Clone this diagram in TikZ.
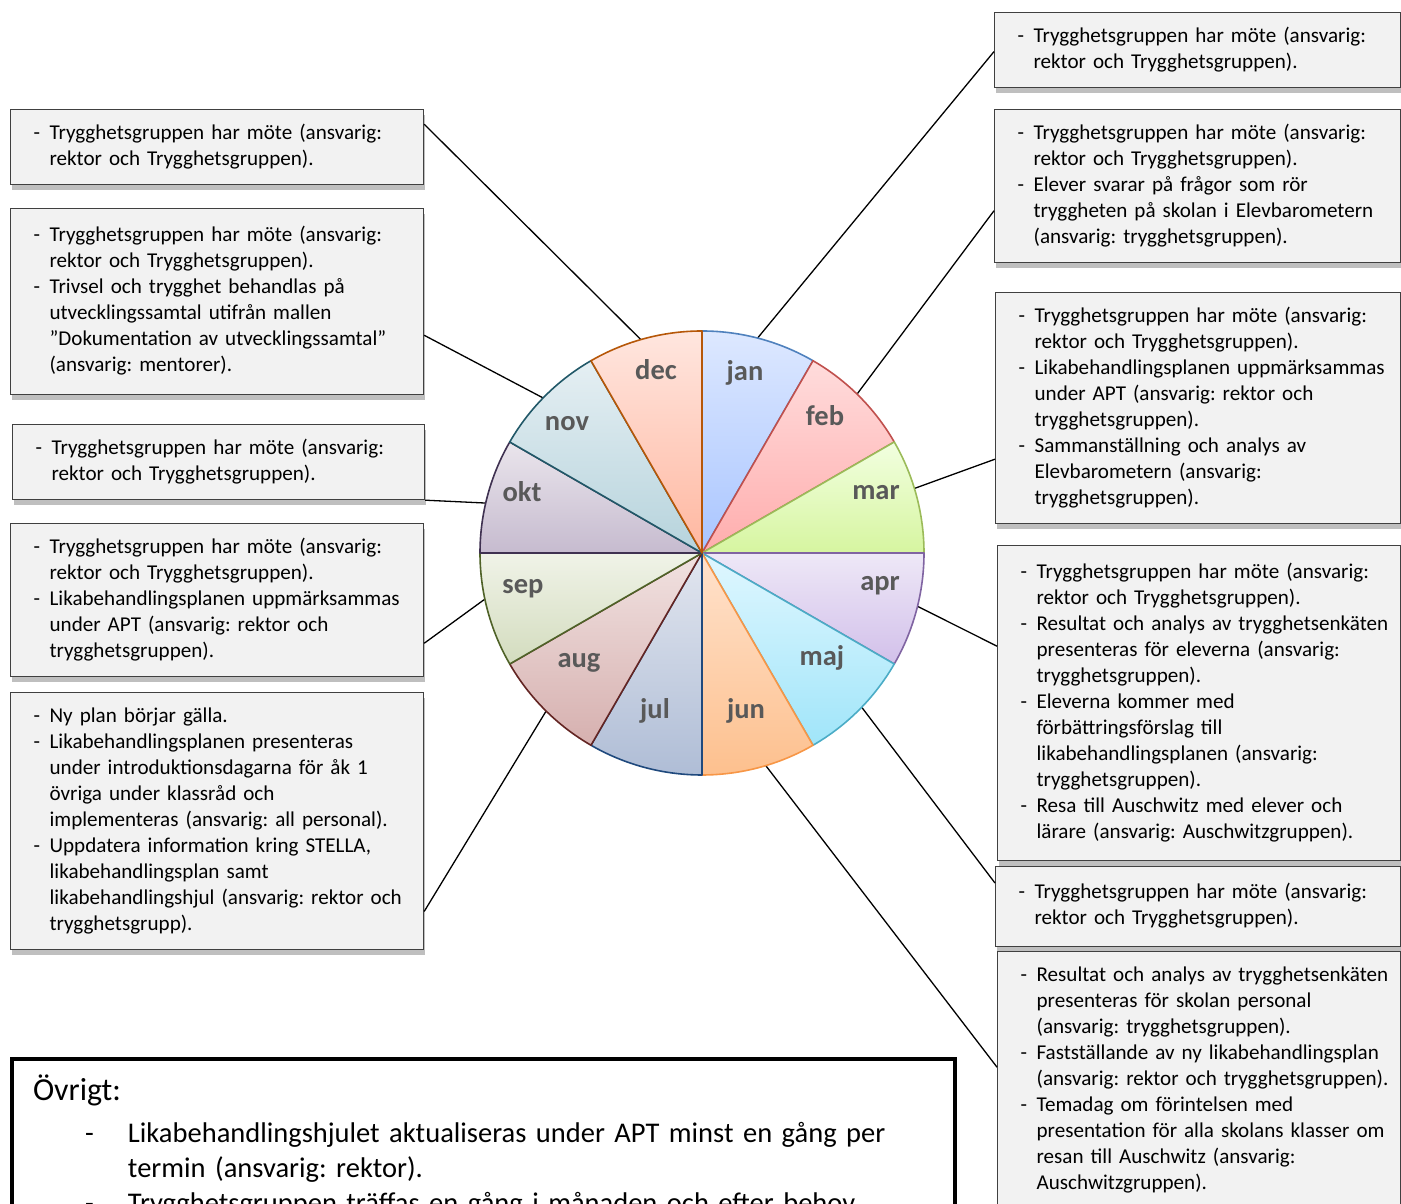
\documentclass[tikz,border=0pt]{standalone}
\usepackage{fontspec}
\setmainfont{Carlito}
\usetikzlibrary{calc,shadows}
\frenchspacing

\definecolor{jan-top}{HTML}{DDE8FF}\definecolor{jan-bot}{HTML}{A9C5FF}\definecolor{jan-line}{HTML}{4F81BD}
\definecolor{feb-top}{HTML}{FFDCDC}\definecolor{feb-bot}{HTML}{FFADAD}\definecolor{feb-line}{HTML}{C0504D}
\definecolor{mar-top}{HTML}{F2FFE0}\definecolor{mar-bot}{HTML}{D6F5A0}\definecolor{mar-line}{HTML}{9BBB59}
\definecolor{apr-top}{HTML}{EEE8F7}\definecolor{apr-bot}{HTML}{D2C0EA}\definecolor{apr-line}{HTML}{8064A2}
\definecolor{maj-top}{HTML}{E0F7FF}\definecolor{maj-bot}{HTML}{A0E5F9}\definecolor{maj-line}{HTML}{4BACC6}
\definecolor{jun-top}{HTML}{FFE2CC}\definecolor{jun-bot}{HTML}{FDC08E}\definecolor{jun-line}{HTML}{F79646}
\definecolor{jul-top}{HTML}{E2E6EF}\definecolor{jul-bot}{HTML}{AFBDD6}\definecolor{jul-line}{HTML}{1F497D}
\definecolor{aug-top}{HTML}{F1E2E1}\definecolor{aug-bot}{HTML}{D6B0AF}\definecolor{aug-line}{HTML}{632523}
\definecolor{sep-top}{HTML}{F0F3E8}\definecolor{sep-bot}{HTML}{D3DCBE}\definecolor{sep-line}{HTML}{4F6228}
\definecolor{okt-top}{HTML}{EAE5EC}\definecolor{okt-bot}{HTML}{C6BBCF}\definecolor{okt-line}{HTML}{3F3151}
\definecolor{nov-top}{HTML}{E5EFF3}\definecolor{nov-bot}{HTML}{B6D3DC}\definecolor{nov-line}{HTML}{215868}
\definecolor{dec-top}{HTML}{FFE6DF}\definecolor{dec-bot}{HTML}{FFB7A0}\definecolor{dec-line}{HTML}{B65708}
\definecolor{boxline}{HTML}{404040}
\definecolor{boxfill}{HTML}{F2F2F2}
\definecolor{monthgray}{HTML}{595959}

\newcommand\dl[1]{\strut\makebox[16pt][l]{-}\mbox{#1}}
\newcommand\cl[1]{\strut\hspace*{16pt}\mbox{#1}}

\tikzset{
  infobox/.style={draw=boxline, line width=1.2pt, fill=boxfill, anchor=north west,
    align=left, text width=#1, inner xsep=23pt, inner ysep=11.5pt,
    font=\fontsize{21.1}{26}\selectfont,
    drop shadow={shadow xshift=1pt, shadow yshift=-5pt, fill=black, opacity=0.25}},
  infobox/.default=367pt,
  notebox/.style={draw=black, line width=4pt, fill=white, anchor=north west,
    align=left, text width=901pt, inner xsep=21pt, inner ysep=16pt,
    font=\fontsize{28.5}{35}\selectfont},
  month/.style={font=\fontsize{28.5}{30}\selectfont\bfseries, text=monthgray},
  link/.style={draw=black, line width=1.3pt},
}

\begin{document}
\begin{tikzpicture}[x=1pt, y=1pt]
\useasboundingbox (0,0) rectangle (1401,1204);
\clip (0,0) rectangle (1401,1204);

\coordinate (c) at (702,651);
\foreach \m/\a in {jan/75.5, feb/45.7, mar/16.9, apr/-13.9, maj/-44, jun/-73.3,
                   aug/-134.6, sep/-168, okt/167, nov/135.7, dec/106}
  \coordinate (r-\m) at ($(c)+(\a:222)$);

\node[infobox] (L1) at (10,1095) {\dl{Trygghetsgruppen har möte (ansvarig:}\\\cl{rektor och Trygghetsgruppen).}};
\node[infobox, minimum height=186pt] (L2) at (10,996) {\dl{Trygghetsgruppen har möte (ansvarig:}\\\cl{rektor och Trygghetsgruppen).}\\\dl{Trivsel och trygghet behandlas på}\\\cl{utvecklingssamtal utifrån mallen}\\\cl{”Dokumentation av utvecklingssamtal”}\\\cl{(ansvarig: mentorer).}};
\node[infobox=366pt] (L3) at (12,780) {\dl{Trygghetsgruppen har möte (ansvarig:}\\\cl{rektor och Trygghetsgruppen).}};
\node[infobox] (L4) at (10,681) {\dl{Trygghetsgruppen har möte (ansvarig:}\\\cl{rektor och Trygghetsgruppen).}\\\dl{Likabehandlingsplanen uppmärksammas}\\\cl{under APT (ansvarig: rektor och}\\\cl{trygghetsgruppen).}};
\node[infobox] (L5) at (10,512) {\dl{Ny plan börjar gälla.}\\\dl{Likabehandlingsplanen presenteras}\\\cl{under introduktionsdagarna för åk 1}\\\cl{övriga under klassråd och}\\\cl{implementeras (ansvarig: all personal).}\\\dl{Uppdatera information kring STELLA,}\\\cl{likabehandlingsplan samt}\\\cl{likabehandlingshjul (ansvarig: rektor och}\\\cl{trygghetsgrupp).}};

\node[infobox=360pt] (R1) at (994,1192) {\dl{Trygghetsgruppen har möte (ansvarig:}\\\cl{rektor och Trygghetsgruppen).}};
\node[infobox=360pt] (R2) at (994,1095) {\dl{Trygghetsgruppen har möte (ansvarig:}\\\cl{rektor och Trygghetsgruppen).}\\\dl{Elever svarar på frågor som rör}\\\cl{tryggheten på skolan i Elevbarometern}\\\cl{(ansvarig: trygghetsgruppen).}};
\node[infobox=359pt] (R3) at (995,912) {\dl{Trygghetsgruppen har möte (ansvarig:}\\\cl{rektor och Trygghetsgruppen).}\\\dl{Likabehandlingsplanen uppmärksammas}\\\cl{under APT (ansvarig: rektor och}\\\cl{trygghetsgruppen).}\\\dl{Sammanställning och analys av}\\\cl{Elevbarometern (ansvarig:}\\\cl{trygghetsgruppen).}};
\node[infobox=357pt, minimum height=315pt] (R4) at (997,659) {\dl{Trygghetsgruppen har möte (ansvarig:}\\\cl{rektor och Trygghetsgruppen).}\\\dl{Resultat och analys av trygghetsenkäten}\\\cl{presenteras för eleverna (ansvarig:}\\\cl{trygghetsgruppen).}\\\dl{Eleverna kommer med}\\\cl{förbättringsförslag till}\\\cl{likabehandlingsplanen (ansvarig:}\\\cl{trygghetsgruppen).}\\\dl{Resa till Auschwitz med elever och}\\\cl{lärare (ansvarig: Auschwitzgruppen).}};
\node[infobox=359pt, minimum height=80pt] (R5) at (995,338) {\dl{Trygghetsgruppen har möte (ansvarig:}\\\cl{rektor och Trygghetsgruppen).}};
\node[infobox=357pt] (R6) at (997,253) {\dl{Resultat och analys av trygghetsenkäten}\\\cl{presenteras för skolan personal}\\\cl{(ansvarig: trygghetsgruppen).}\\\dl{Fastställande av ny likabehandlingsplan}\\\cl{(ansvarig: rektor och trygghetsgruppen).}\\\dl{Temadag om förintelsen med}\\\cl{presentation för alla skolans klasser om}\\\cl{resan till Auschwitz (ansvarig:}\\\cl{Auschwitzgruppen).}};

\draw[link] (r-dec) -- ($(L1.north east)!0.2!(L1.south east)$);
\draw[link] (r-nov) -- ($(L2.north east)!0.68!(L2.south east)$);
\draw[link] (r-okt) -- (L3.south east);
\draw[link] (r-sep) -- ($(L4.north east)!0.78!(L4.south east)$);
\draw[link] (r-aug) -- ($(L5.north east)!0.85!(L5.south east)$);
\draw[link] (r-jan) -- ($(R1.north west)!0.52!(R1.south west)$);
\draw[link] (r-feb) -- ($(R2.north west)!0.66!(R2.south west)$);
\draw[link] (r-mar) -- ($(R3.north west)!0.72!(R3.south west)$);
\draw[link] (r-apr) -- ($(R4.north west)!0.32!(R4.south west)$);
\draw[link] (r-maj) -- ($(R5.north west)!0.21!(R5.south west)$);
\draw[link] (r-jun) -- ($(R6.north west)!0.45!(R6.south west)$);

\foreach \m/\a/\lx/\ly in {jan/60/745/831, feb/30/825/788, mar/0/876/711, apr/-30/880/618,
                           maj/-60/822/546, jun/-90/746/493, jul/-120/655/493, aug/-150/579/541,
                           sep/-180/523/615, okt/150/522/712, nov/120/567/780, dec/90/656/834}{
  \path[draw=\m-line, line width=1.6pt, line join=round, top color=\m-top, bottom color=\m-bot]
    (c) -- ++(\a:222) arc[start angle=\a, end angle=\a+30, radius=222] -- cycle;
  \node[month] (m-\m) at (\lx,\ly) {\m};
}

\node[notebox] (B) at (10,147) {{\fontsize{32}{35}\selectfont Övrigt:}\\[7pt]
  \hspace*{52pt}\makebox[43pt][l]{-}Likabehandlingshjulet aktualiseras under APT minst en gång per\\
  \hspace*{95pt}termin (ansvarig: rektor).\\
  \hspace*{52pt}\makebox[43pt][l]{-}Trygghetsgruppen träffas en gång i månaden och efter behov};
\end{tikzpicture}
\end{document}
